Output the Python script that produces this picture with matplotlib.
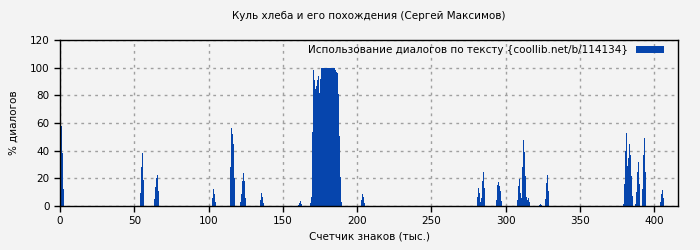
import numpy as np
import matplotlib
matplotlib.use('Agg')
import matplotlib.pyplot as plt

# bin width in thousands of characters (one bar per bin)
bin_w = 0.673

# each cluster of non-zero bins: position of the first bin and its values (% dialogs)
seg_start = [0.9, 54.0, 63.6, 102.4, 114.7, 121.5, 134.9, 160.5, 168.6,
             202.9, 281.0, 293.7, 307.9, 322.7, 326.7, 379.2, 404.1]
seg_vals = [
    [58, 38, 12.5],
    [9.4, 28, 38, 19],
    [5, 13.7, 20, 22.4, 11],
    [5.8, 12.3, 8.7, 2.9],
    [28, 56.4, 52, 45, 20],
    [2.9, 8.7, 18, 23.8, 17.8, 5.8],
    [4.3, 9.4, 6.5, 2.2],
    [1, 2.4, 3.6, 1.6],
    [2.1, 6.7, 53.8, 98.6, 91.4, 84.3, 87, 91.4, 94.3, 82, 92,
     100, 100, 100, 100, 100, 100, 100, 100, 100, 100, 100, 100, 100, 100,
     98, 97, 96.4, 80.7, 50.7, 20.7, 2.9],
    [4.3, 8.7, 6.5, 2.4],
    [6.7, 13, 9.5, 3, 6, 18, 24.5, 13],
    [4.3, 15, 17, 14.3, 10.7, 3.6],
    [4.5, 14.5, 19.5, 9.5, 6, 28, 48, 38.8, 21.7, 6.7, 4.5, 6, 3],
    [1, 1.7, 0.7],
    [5.2, 16.7, 22.4, 11],
    [1.7, 16, 40, 53, 28.6, 34.5, 44.5, 36.7, 21.7, 7.4, 0, 0,
     1.7, 10.2, 24.5, 31.7, 16, 0, 0, 12.1, 36.7, 48.8, 24.5],
    [3, 8.8, 11.7, 6],
]

x = []
y = []
for s, vals in zip(seg_start, seg_vals):
    for i, v in enumerate(vals):
        x.append(s + i * bin_w)
        y.append(v)
x = np.array(x)
y = np.array(y)

bg = '#f3f3f3'
bar_color = '#0645ad'

fig = plt.figure(figsize=(7, 2.5), dpi=100, facecolor=bg)
ax = fig.add_axes([0.0857, 0.176, 0.8829, 0.664], facecolor=bg)

ax.bar(x, y, width=bin_w, color=bar_color, linewidth=0, antialiased=False,
       label='Использование диалогов по тексту {coollib.net/b/114134}')

ax.set_xlim(0, 416)
ax.set_ylim(0, 120)
ax.set_xticks(np.arange(0, 401, 50))
ax.set_yticks(np.arange(0, 121, 20))
ax.tick_params(labelsize=7.5, direction='out', length=4, width=1)
ax.grid(True, color='#a0a0a0', linestyle=(0, (2, 3)), linewidth=1)
ax.set_axisbelow(True)
for sp in ax.spines.values():
    sp.set_color('black')
    sp.set_linewidth(1.0)

ax.set_title('Куль хлеба и его похождения (Сергей Максимов)', fontsize=7.5, pad=15)
ax.set_xlabel('Счетчик знаков (тыс.)', fontsize=7.5)
ax.set_ylabel('% диалогов', fontsize=7.5, labelpad=8)

ax.legend(loc='upper right', frameon=False, fontsize=7.5, markerfirst=False,
          handlelength=2.6, handleheight=0.6, borderaxespad=0.1,
          bbox_to_anchor=(0.985, 1.0))

plt.savefig('out.png', dpi=100, facecolor=bg)
